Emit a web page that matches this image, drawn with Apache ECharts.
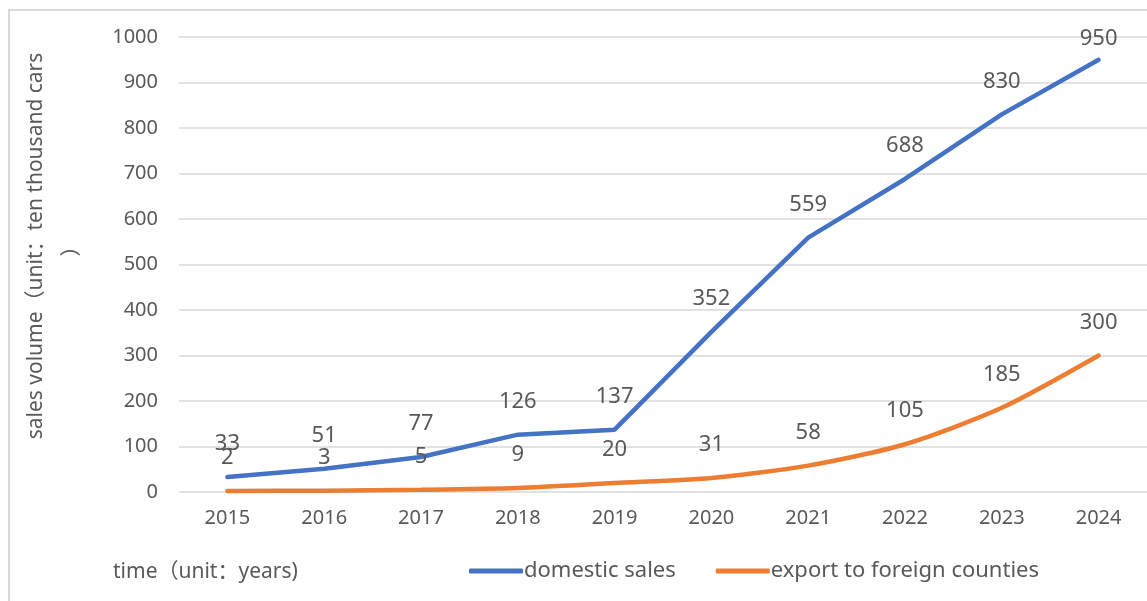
<!DOCTYPE html>
<html>
<head>
<meta charset="utf-8">
<script src="https://cdn.jsdelivr.net/npm/echarts@6/dist/echarts.min.js"></script>
<style>
  html, body { margin: 0; padding: 0; background: #fff; }
  #chart { width: 1147px; height: 601px; }
</style>
</head>
<body>
<div id="chart"></div>
<script>
// 数据
const years = ["2015", "2016", "2017", "2018", "2019", "2020", "2021", "2022", "2023", "2024"];
const domesticSales = [33, 51, 77, 126, 137, 352, 559, 688, 830, 950];
const exportSales = [2, 3, 5, 9, 20, 31, 58, 105, 185, 300];
const yTicks = [0, 1000, 100]; // min, max, interval

const font = "'Noto Sans', 'Noto Sans CJK SC', sans-serif";
const gray = "#595959";

let myChart = echarts.init(document.getElementById("chart"));

// 折线上的数值标签
const pointLabel = {
  show: true,
  position: "top",
  distance: 22,
  fontSize: 22,
  fontFamily: font,
  color: gray
};

myChart.setOption({
  animation: false,
  graphic: [
    // 外框
    {
      type: "rect",
      shape: { x: 9, y: 10, width: 1200, height: 700 },
      style: { fill: "none", stroke: "#d9d9d9", lineWidth: 2 }
    },
    // x轴标题
    {
      type: "text",
      left: 113,
      top: 562,
      style: { text: "time（unit：years)", fontSize: 21, fontFamily: font, fill: gray }
    },
    // y轴标题
    {
      type: "text",
      x: 54,
      y: 246,
      rotation: Math.PI / 2,
      style: {
        text: "sales volume（unit：ten thousand cars\n）",
        fontSize: 21,
        lineHeight: 36,
        fontFamily: font,
        fill: gray,
        align: "center",
        verticalAlign: "middle"
      }
    }
  ],
  grid: { left: 179, right: 0, top: 37, bottom: 109 },
  legend: {
    orient: "horizontal",
    bottom: 14,
    left: 464,
    itemWidth: 54,
    itemHeight: 5,
    itemGap: 40,
    icon: "roundRect",
    textStyle: { fontSize: 22, fontFamily: font, color: gray, padding: [0, 0, 0, -4] },
    data: ["domestic sales", "export to foreign counties"]
  },
  xAxis: {
    type: "category",
    data: years,
    boundaryGap: true,
    axisLine: { show: false },
    axisTick: { show: false },
    axisLabel: { fontSize: 20, fontFamily: font, color: gray, margin: 16 }
  },
  yAxis: {
    type: "value",
    min: yTicks[0],
    max: yTicks[1],
    interval: yTicks[2],
    axisLabel: {
      fontSize: 20,
      fontFamily: font,
      color: gray,
      margin: 21,
      formatter: (v) => String(v)
    },
    splitLine: { lineStyle: { color: "#d9d9d9", width: 1.5 } }
  },
  series: [
    {
      name: "domestic sales",
      type: "line",
      data: domesticSales.map((v, i) =>
        i === domesticSales.length - 1 ? { value: v, label: { distance: 10 } } : v
      ),
      symbol: "circle",
      symbolSize: 0,
      showSymbol: true,
      color: "#4472C4",
      lineStyle: { width: 4.5, cap: "round" },
      label: pointLabel
    },
    {
      name: "export to foreign counties",
      type: "line",
      data: exportSales,
      smooth: 0.25,
      symbol: "circle",
      symbolSize: 0,
      showSymbol: true,
      color: "#ED7D31",
      lineStyle: { width: 4.5, cap: "round" },
      label: pointLabel
    }
  ]
});
</script>
</body>
</html>
